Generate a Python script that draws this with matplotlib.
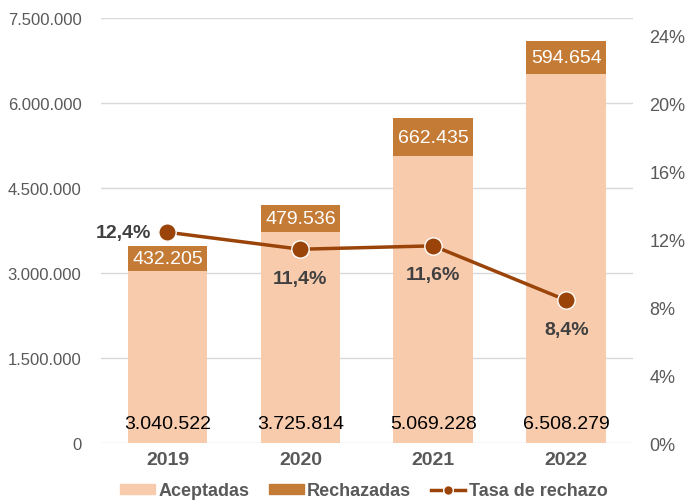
import matplotlib
matplotlib.use("Agg")
import matplotlib.pyplot as plt
from matplotlib.lines import Line2D
from matplotlib.patches import Patch
from matplotlib.ticker import FuncFormatter

plt.rcParams["font.family"] = ["Liberation Sans", "DejaVu Sans"]

years = ["2019", "2020", "2021", "2022"]
aceptadas = [3040522, 3725814, 5069228, 6508279]
rechazadas = [432205, 479536, 662435, 594654]
tasa = [12.4, 11.4, 11.6, 8.4]

c_acep = "#F8CBAD"
c_rech = "#C47B36"
c_line = "#9A4409"
grey = "#595959"


def miles(v):
    return f"{int(round(v)):,}".replace(",", ".")


fig = plt.figure(figsize=(6.87, 5.02), dpi=100)
ax = fig.add_axes([0.147, 0.1155, 0.774, 0.8465])
x = range(len(years))

ax.bar(x, aceptadas, width=0.6, color=c_acep, zorder=2)
ax.bar(x, rechazadas, width=0.6, bottom=aceptadas, color=c_rech, zorder=2)

for i in x:
    ax.text(i, 200000, miles(aceptadas[i]), ha="center", va="bottom",
            fontsize=14, color="black", zorder=3)
    ax.text(i, aceptadas[i] + rechazadas[i] / 2, miles(rechazadas[i]),
            ha="center", va="center", fontsize=14, color="white", zorder=3)

ax.set_xlim(-0.5, 3.5)
ax.set_ylim(0, 7500000)
ax.set_yticks(range(0, 7500001, 1500000))
ax.yaxis.set_major_formatter(FuncFormatter(lambda v, p: miles(v)))
ax.set_xticks(list(x))
ax.set_xticklabels(years, fontsize=14, fontweight="bold", color=grey)
ax.tick_params(axis="y", labelsize=12, labelcolor=grey, length=0, pad=14)
ax.tick_params(axis="x", length=0, pad=6)
ax.grid(axis="y", color="#D9D9D9", lw=1, zorder=0)
for s in ax.spines.values():
    s.set_visible(False)

ax2 = ax.twinx()
ax2.plot(list(x), tasa, color=c_line, lw=2.5, marker="o", ms=12.5,
         mfc=c_line, mec="white", mew=1, zorder=4)
ax2.set_ylim(0, 25)
ax2.set_yticks(range(0, 25, 4))
ax2.yaxis.set_major_formatter(FuncFormatter(lambda v, p: f"{int(v)}%"))
ax2.tick_params(axis="y", labelsize=13, labelcolor=grey, length=0, pad=12)
for s in ax2.spines.values():
    s.set_visible(False)

for i, t in enumerate(tasa):
    lbl = f"{t:.1f}%".replace(".", ",")
    if i == 0:
        ax2.text(i - 0.12, t, lbl, ha="right", va="center", fontsize=14,
                 fontweight="bold", color="#404040")
    else:
        ax2.text(i, t - 1.7, lbl, ha="center", va="center", fontsize=14,
                 fontweight="bold", color="#404040")

handles = [
    Patch(color=c_acep, label="Aceptadas"),
    Patch(color=c_rech, label="Rechazadas"),
    Line2D([0], [0], color=c_line, lw=2.5, marker="o", ms=7, mfc=c_line,
           mec="white", label="Tasa de rechazo"),
]
fig.legend(handles=handles, loc="center", bbox_to_anchor=(0.53, 0.02),
           ncol=3, frameon=False, labelcolor=grey,
           prop={"size": 13, "weight": "bold"},
           handlelength=1.9, handleheight=0.5, handletextpad=0.2,
           columnspacing=1.1, borderaxespad=0)

fig.savefig("out.png", dpi=100, facecolor="white")
